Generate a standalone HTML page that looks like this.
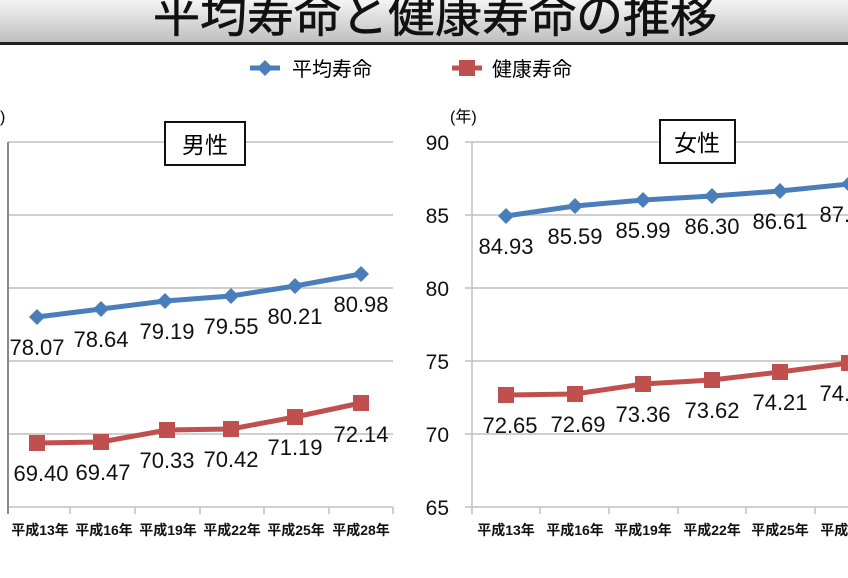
<!DOCTYPE html>
<html><head><meta charset="utf-8"><style>
body{margin:0;width:848px;height:573px;overflow:hidden;background:#fff;font-family:"Liberation Sans","Noto Sans CJK JP",sans-serif}
</style></head><body>
<svg width="848" height="573" xmlns="http://www.w3.org/2000/svg" font-family="'Liberation Sans','Noto Sans CJK JP',sans-serif">
<defs><linearGradient id="g" x1="0" y1="0" x2="0" y2="1"><stop offset="0" stop-color="#f4f4f4"/><stop offset="1" stop-color="#bdbdbd"/></linearGradient>
<g id="d"><path d="M0,-8 L8,0 L0,8 L-8,0Z" fill="#4a7ebb"/></g>
<g id="s"><rect x="-8" y="-8" width="16" height="16" fill="#c0504d"/></g></defs>
<rect x="0" y="0" width="848" height="44" fill="url(#g)"/>
<rect x="0" y="42" width="848" height="3" fill="#222"/>
<text x="435" y="32" text-anchor="middle" font-size="47" fill="#111" stroke="#111" stroke-width="0.6">平均寿命と健康寿命の推移</text>
<line x1="250" y1="68" x2="280" y2="68" stroke="#4a7ebb" stroke-width="5"/><use href="#d" x="265" y="68"/>
<text x="292" y="76" font-size="20">平均寿命</text>
<line x1="452" y1="68" x2="482" y2="68" stroke="#c0504d" stroke-width="5"/><use href="#s" x="467" y="68"/>
<text x="492" y="76" font-size="20">健康寿命</text>
<g stroke="#bfbfbf" stroke-width="1.5">
<line x1="8" y1="142" x2="393" y2="142"/><line x1="8" y1="215" x2="393" y2="215"/><line x1="8" y1="288" x2="393" y2="288"/><line x1="8" y1="361" x2="393" y2="361"/><line x1="8" y1="434" x2="393" y2="434"/><line x1="8" y1="507" x2="393" y2="507"/>
<line x1="465" y1="142" x2="848" y2="142"/><line x1="465" y1="215" x2="848" y2="215"/><line x1="465" y1="288" x2="848" y2="288"/><line x1="465" y1="361" x2="848" y2="361"/><line x1="465" y1="434" x2="848" y2="434"/><line x1="465" y1="507" x2="848" y2="507"/>
<line x1="472" y1="142" x2="472" y2="514"/>
<line x1="70" y1="507" x2="70" y2="514"/><line x1="135" y1="507" x2="135" y2="514"/><line x1="200" y1="507" x2="200" y2="514"/><line x1="264" y1="507" x2="264" y2="514"/><line x1="329" y1="507" x2="329" y2="514"/><line x1="393" y1="507" x2="393" y2="514"/>
<line x1="540" y1="507" x2="540" y2="514"/><line x1="609" y1="507" x2="609" y2="514"/><line x1="678" y1="507" x2="678" y2="514"/><line x1="746" y1="507" x2="746" y2="514"/><line x1="815" y1="507" x2="815" y2="514"/>
</g>
<line x1="8" y1="142" x2="8" y2="514" stroke="#888" stroke-width="2"/>
<text x="0" y="122" font-size="16">)</text>
<text x="450" y="122" font-size="16">(年)</text>
<g font-size="21" text-anchor="end" fill="#111"><text x="449" y="150">90</text><text x="449" y="223">85</text><text x="449" y="296">80</text><text x="449" y="369">75</text><text x="449" y="442">70</text><text x="449" y="515">65</text></g>
<rect x="165" y="122" width="80" height="43" fill="#fff" stroke="#111" stroke-width="2"/><text x="205" y="153" text-anchor="middle" font-size="23">男性</text>
<rect x="660" y="120" width="75" height="43" fill="#fff" stroke="#111" stroke-width="2"/><text x="697" y="151" text-anchor="middle" font-size="23">女性</text>
<polyline points="37,317 101,309 165,301 231,296 295,286 361,274" fill="none" stroke="#4a7ebb" stroke-width="5"/>
<g><use href="#d" x="37" y="317"/><use href="#d" x="101" y="309"/><use href="#d" x="165" y="301"/><use href="#d" x="231" y="296"/><use href="#d" x="295" y="286"/><use href="#d" x="361" y="274"/></g>
<polyline points="37,443 101,442 167,430 231,429 295,417 361,403" fill="none" stroke="#c0504d" stroke-width="5"/>
<g><use href="#s" x="37" y="443"/><use href="#s" x="101" y="442"/><use href="#s" x="167" y="430"/><use href="#s" x="231" y="429"/><use href="#s" x="295" y="417"/><use href="#s" x="361" y="403"/></g>
<polyline points="506,216 575,206 643,200 712,196 780,191 849,184" fill="none" stroke="#4a7ebb" stroke-width="5"/>
<g><use href="#d" x="506" y="216"/><use href="#d" x="575" y="206"/><use href="#d" x="643" y="200"/><use href="#d" x="712" y="196"/><use href="#d" x="780" y="191"/><use href="#d" x="849" y="184"/></g>
<polyline points="506,395 575,394 643,384 712,380 780,372 849,363" fill="none" stroke="#c0504d" stroke-width="5"/>
<g><use href="#s" x="506" y="395"/><use href="#s" x="575" y="394"/><use href="#s" x="643" y="384"/><use href="#s" x="712" y="380"/><use href="#s" x="780" y="372"/><use href="#s" x="849" y="363"/></g>
<g font-size="22" text-anchor="middle" fill="#111">
<text x="37" y="355">78.07</text><text x="101" y="347">78.64</text><text x="167" y="339">79.19</text><text x="231" y="334">79.55</text><text x="295" y="324">80.21</text><text x="361" y="312">80.98</text>
<text x="41" y="481">69.40</text><text x="103" y="480">69.47</text><text x="167" y="468">70.33</text><text x="231" y="467">70.42</text><text x="295" y="455">71.19</text><text x="361" y="442">72.14</text>
<text x="506" y="254">84.93</text><text x="575" y="244">85.59</text><text x="643" y="238">85.99</text><text x="712" y="234">86.30</text><text x="780" y="229">86.61</text><text x="847" y="222">87.14</text>
<text x="510" y="433">72.65</text><text x="578" y="432">72.69</text><text x="643" y="422">73.36</text><text x="712" y="418">73.62</text><text x="780" y="410">74.21</text><text x="847" y="401">74.79</text>
</g>
<g font-size="14" font-weight="bold" text-anchor="middle" fill="#111">
<text x="40" y="535">平成13年</text><text x="104" y="535">平成16年</text><text x="168" y="535">平成19年</text><text x="232" y="535">平成22年</text><text x="296" y="535">平成25年</text><text x="361" y="535">平成28年</text>
<text x="506" y="535">平成13年</text><text x="575" y="535">平成16年</text><text x="643" y="535">平成19年</text><text x="712" y="535">平成22年</text><text x="780" y="535">平成25年</text><text x="849" y="535">平成28年</text>
</g>
</svg>
</body></html>
